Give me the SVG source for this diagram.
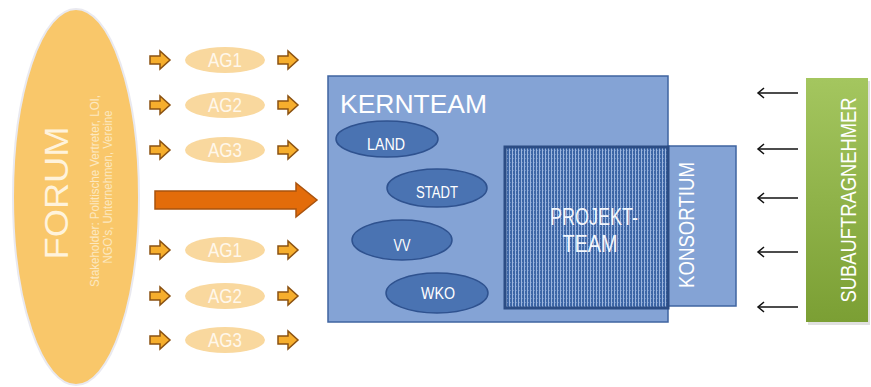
<svg xmlns="http://www.w3.org/2000/svg" width="871" height="387" viewBox="0 0 871 387">
  <defs>
    <style>
      .lbl { font-family: "Liberation Sans", Arial, sans-serif; }
      .ag-ell { fill: #F9D89E; }
      .ag-txt { fill: #FFF7EA; font-size: 20px; text-anchor: middle; }
      .small-arrow { fill: #F6AE2D; stroke: #8B5212; stroke-width: 1.5; stroke-linejoin: miter; }
      .blue-ell { fill: #4A73B2; stroke: #2F528F; stroke-width: 1.5; }
      .blue-txt { fill: #FFFFFF; font-size: 16px; text-anchor: middle; }
      .light-box { fill: #84A3D5; stroke: #3F64A0; stroke-width: 1.5; }
      .feed { stroke: #111111; stroke-width: 1.5; fill: none; marker-end: url(#chev); }
    </style>
    <path id="sarrow" d="M0,-4 H10 V-9 L20,0 L10,9 V4 H0 Z"/>
    <marker id="chev" markerWidth="12" markerHeight="12" refX="9" refY="6" orient="auto" markerUnits="userSpaceOnUse">
      <path d="M3,1 L9,6 L3,11" fill="none" stroke="#111111" stroke-width="1.5"/>
    </marker>
    <pattern id="hatch" width="3" height="4" patternUnits="userSpaceOnUse">
      <rect width="3" height="4" fill="#3D66A6"/>
      <rect x="2" width="1" height="4" fill="#9DB6DE"/>
      <rect x="0" y="2" width="1" height="1" fill="#6A8CC4"/>
    </pattern>
    <linearGradient id="green" x1="0" y1="0" x2="0" y2="1">
      <stop offset="0" stop-color="#A4C65F"/>
      <stop offset="1" stop-color="#7B9F34"/>
    </linearGradient>
  </defs>

  <rect width="871" height="387" fill="#FFFFFF"/>

  <!-- Forum -->
  <g id="forum">
    <ellipse cx="76" cy="197" rx="63" ry="188" fill="#F9C76A" stroke="#E9E9F0" stroke-width="2"/>
    <text class="lbl" transform="translate(68,193) rotate(-90)" font-size="33" fill="#FFF3DC" text-anchor="middle" textLength="133" lengthAdjust="spacingAndGlyphs">FORUM</text>
    <text class="lbl" transform="translate(99,191) rotate(-90)" font-size="13" fill="#FCE8C0" text-anchor="middle" textLength="192" lengthAdjust="spacingAndGlyphs">Stakeholder: Politische Vertreter, LOI,</text>
    <text class="lbl" transform="translate(112,187) rotate(-90)" font-size="13" fill="#FCE8C0" text-anchor="middle" textLength="153" lengthAdjust="spacingAndGlyphs">NGO’s, Unternehmen, Vereine</text>
  </g>

  <!-- Arbeitsgruppen -->
  <g id="ag1-top">
    <ellipse class="ag-ell" cx="225" cy="60" rx="40" ry="13"/>
    <text class="lbl ag-txt" x="225" y="67" textLength="34" lengthAdjust="spacingAndGlyphs">AG1</text>
  </g>
  <g id="ag2-top">
    <ellipse class="ag-ell" cx="225" cy="105" rx="40" ry="13"/>
    <text class="lbl ag-txt" x="225" y="112" textLength="34" lengthAdjust="spacingAndGlyphs">AG2</text>
  </g>
  <g id="ag3-top">
    <ellipse class="ag-ell" cx="225" cy="150" rx="40" ry="13"/>
    <text class="lbl ag-txt" x="225" y="157" textLength="34" lengthAdjust="spacingAndGlyphs">AG3</text>
  </g>
  <g id="ag1-bottom">
    <ellipse class="ag-ell" cx="225" cy="250" rx="40" ry="13"/>
    <text class="lbl ag-txt" x="225" y="257" textLength="34" lengthAdjust="spacingAndGlyphs">AG1</text>
  </g>
  <g id="ag2-bottom">
    <ellipse class="ag-ell" cx="225" cy="296" rx="40" ry="13"/>
    <text class="lbl ag-txt" x="225" y="303" textLength="34" lengthAdjust="spacingAndGlyphs">AG2</text>
  </g>
  <g id="ag3-bottom">
    <ellipse class="ag-ell" cx="225" cy="340" rx="40" ry="13"/>
    <text class="lbl ag-txt" x="225" y="347" textLength="34" lengthAdjust="spacingAndGlyphs">AG3</text>
  </g>

  <!-- Kernteam -->
  <g id="kernteam">
    <rect class="light-box" x="328" y="76" width="340" height="246"/>
    <text class="lbl" x="340" y="113" font-size="26" fill="#FFFFFF" textLength="147" lengthAdjust="spacingAndGlyphs">KERNTEAM</text>
  </g>
  <g id="land">
    <ellipse class="blue-ell" cx="387" cy="139" rx="51" ry="18"/>
    <text class="lbl blue-txt" x="386" y="150" textLength="38" lengthAdjust="spacingAndGlyphs">LAND</text>
  </g>
  <g id="stadt">
    <ellipse class="blue-ell" cx="437" cy="188" rx="50" ry="19"/>
    <text class="lbl blue-txt" x="437" y="198" textLength="42" lengthAdjust="spacingAndGlyphs">STADT</text>
  </g>
  <g id="vv">
    <ellipse class="blue-ell" cx="402" cy="240" rx="50" ry="20"/>
    <text class="lbl blue-txt" x="402" y="251" textLength="17" lengthAdjust="spacingAndGlyphs">VV</text>
  </g>
  <g id="wko">
    <ellipse class="blue-ell" cx="437" cy="293" rx="51" ry="20"/>
    <text class="lbl blue-txt" x="438" y="299" textLength="34" lengthAdjust="spacingAndGlyphs">WKO</text>
  </g>

  <!-- Konsortium -->
  <g id="konsortium">
    <rect class="light-box" x="668" y="146" width="68" height="160"/>
    <text class="lbl" transform="translate(694,225) rotate(-90)" font-size="22" fill="#FFFFFF" text-anchor="middle" textLength="126" lengthAdjust="spacingAndGlyphs">KONSORTIUM</text>
  </g>

  <!-- Projektteam -->
  <g id="projektteam">
    <rect x="505" y="147" width="163" height="161" fill="url(#hatch)" stroke="#2B4C84" stroke-width="3"/>
    <text class="lbl" x="594" y="225" font-size="23" fill="#F2F6FC" text-anchor="middle" textLength="88" lengthAdjust="spacingAndGlyphs">PROJEKT-</text>
    <text class="lbl" x="590" y="252" font-size="23" fill="#F2F6FC" text-anchor="middle" textLength="55" lengthAdjust="spacingAndGlyphs">TEAM</text>
  </g>

  <!-- Subauftragnehmer -->
  <g id="subauftragnehmer">
    <rect x="808" y="81" width="62" height="244" fill="#000000" opacity="0.12"/>
    <rect x="806" y="78" width="62" height="244" fill="url(#green)"/>
    <text class="lbl" transform="translate(856,200) rotate(-90)" font-size="22" fill="#FFFFFF" text-anchor="middle" textLength="205" lengthAdjust="spacingAndGlyphs">SUBAUFTRAGNEHMER</text>
  </g>

  <!-- Connectors -->
  <g id="connectors">
    <use href="#sarrow" class="small-arrow" x="150" y="60"/>
    <use href="#sarrow" class="small-arrow" x="150" y="105"/>
    <use href="#sarrow" class="small-arrow" x="150" y="150"/>
    <use href="#sarrow" class="small-arrow" x="150" y="250"/>
    <use href="#sarrow" class="small-arrow" x="150" y="296"/>
    <use href="#sarrow" class="small-arrow" x="150" y="340"/>
    <use href="#sarrow" class="small-arrow" x="278" y="60"/>
    <use href="#sarrow" class="small-arrow" x="278" y="105"/>
    <use href="#sarrow" class="small-arrow" x="278" y="150"/>
    <use href="#sarrow" class="small-arrow" x="278" y="250"/>
    <use href="#sarrow" class="small-arrow" x="278" y="296"/>
    <use href="#sarrow" class="small-arrow" x="278" y="340"/>

    <path d="M155,191 H296 V183 L317,200 L296,217 V209 H155 Z" fill="#E36C0A" stroke="#A9530E" stroke-width="1.5"/>

    <line class="feed" x1="798" y1="93" x2="758" y2="93"/>
    <line class="feed" x1="798" y1="149" x2="758" y2="149"/>
    <line class="feed" x1="798" y1="198" x2="758" y2="198"/>
    <line class="feed" x1="798" y1="252" x2="758" y2="252"/>
    <line class="feed" x1="798" y1="307" x2="758" y2="307"/>
  </g>
</svg>
